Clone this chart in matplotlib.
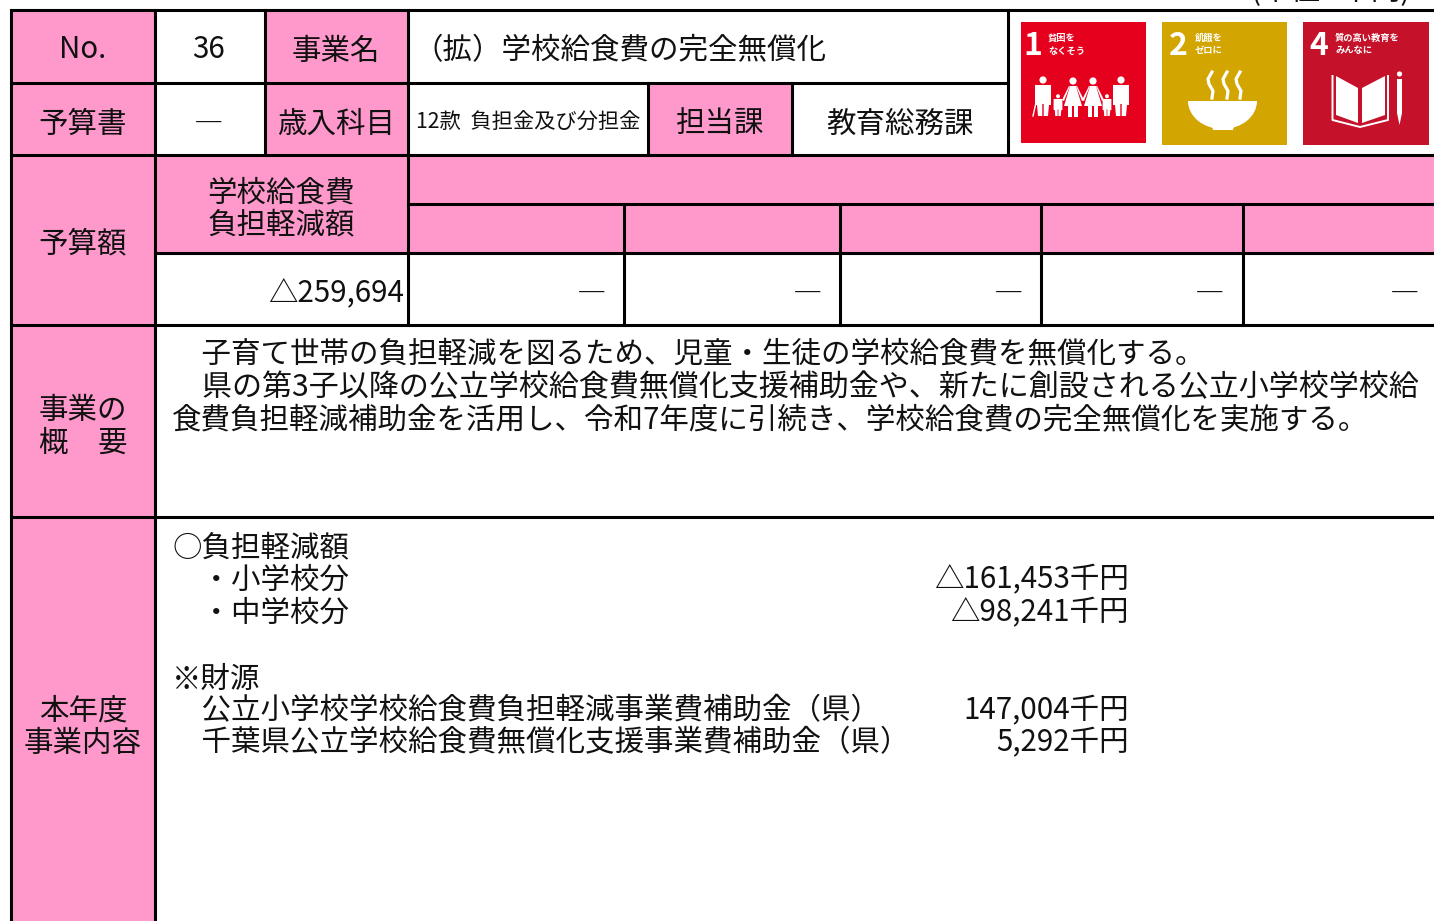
import matplotlib
matplotlib.use('Agg')
import matplotlib.pyplot as plt
from matplotlib.patches import Rectangle, Circle, Polygon, Ellipse
from matplotlib.lines import Line2D

plt.rcParams['font.family'] = ['Noto Sans CJK JP', 'DejaVu Sans']
PINK = '#FF99CC'
W, H = 1434, 921
FS = 29.5 * 0.72

# (x0, y0, x1, y1)
pink_cells = [(11, 11, 155, 325), (11, 325, 155, 921), (265, 11, 408, 155), (155, 155, 408, 254),
              (648, 84, 792, 155), (408, 155, 1434, 254)]
h_lines = [(10.5, 1434, 10.5), (10.5, 1008, 83), (10.5, 1434, 155), (408, 1434, 204), (155, 1434, 253.5),
           (10.5, 1434, 325), (10.5, 1434, 517)]
v_lines = [(10.5, 10.5, 921), (155, 10.5, 921), (264.5, 10.5, 155), (408, 10.5, 325), (648, 83, 155), (792, 83, 155),
           (1008, 10.5, 155), (624, 204, 325), (840, 204, 325), (1041, 204, 325), (1243, 204, 325)]

# (x, y, text, ha)
cell_labels = [(83, 47, 'No.', 'center'), (209, 47, '36', 'center'),
               (336, 48, '事業名', 'center'),
               (413, 48, '（拡）学校給食費の完全無償化', 'left'),
               (83, 121, '予算書', 'center'), (209, 122, '―', 'center'), (336, 121, '歳入科目', 'center'),
               (720, 121, '担当課', 'center'), (900, 121, '教育総務課', 'center'),
               (281, 190, '学校給食費', 'center'), (281, 222, '負担軽減額', 'center'),
               (83, 241, '予算額', 'center'),
               (404, 290, '△259,694', 'right'),
               (606, 292, '―', 'right'), (822, 292, '―', 'right'), (1023, 292, '―', 'right'),
               (1224, 292, '―', 'right'), (1419, 292, '―', 'right'),
               (83, 407, '事業の', 'center'), (83, 440, '概\u3000要', 'center'),
               (83, 708, '本年度', 'center'), (83, 740, '事業内容', 'center')]
# (x, y, text, size factor): the second line is justified in its cell
body_lines = [(172, 352, '\u3000子育て世帯の負担軽減を図るため、児童・生徒の学校給食費を無償化する。', 1.0),
              (172, 385, '\u3000県の第3子以降の公立学校給食費無償化支援補助金や、新たに創設される公立小学校学校給', 1.019),
              (172, 418, '食費負担軽減補助金を活用し、令和7年度に引続き、学校給食費の完全無償化を実施する。', 1.0),
              (172, 545, '○負担軽減額', 1.0),
              (172, 577, '\u3000・小学校分', 1.0),
              (172, 610, '\u3000・中学校分', 1.0),
              (172, 676, '※財源', 1.0),
              (172, 708, '\u3000公立小学校学校給食費負担軽減事業費補助金（県）', 1.0),
              (172, 740, '\u3000千葉県公立学校給食費無償化支援事業費補助金（県）', 1.0)]
amounts = [(577, '△161,453千円'), (610, '△98,241千円'), (708, '147,004千円'), (740, '5,292千円')]
account = '12款  負担金及び分担金'
unit_note = '(単位 : 千円)'

# SDG icons: x0, y0, x1, y1, colour, number, number x, caption x, two caption lines
sdgs = [(1021, 22, 1146, 143, '#E5001E', '1', 1033, 1048, '貧困を', 'なくそう'),
        (1162, 22, 1287, 145, '#D3A500', '2', 1178, 1195, '飢餓を', 'ゼロに'),
        (1303, 22, 1429, 145, '#C5112A', '4', 1319, 1335, '質の高い教育を', 'みんなに')]

fig = plt.figure(figsize=(W / 100, H / 100), dpi=100)
ax = fig.add_axes([0, 0, 1, 1])
ax.set_xlim(0, W)
ax.set_ylim(H, 0)
ax.axis('off')

for x0, y0, x1, y1 in pink_cells:
    ax.add_patch(Rectangle((x0, y0), x1 - x0, y1 - y0, fc=PINK, ec='none', zorder=1))
ax.add_patch(Rectangle((155, 84), 110, 71, fc='white', ec='none', zorder=1.5))
for x0, x1, y in h_lines:
    ax.add_line(Line2D([x0, x1], [y, y], color='black', lw=2.2, zorder=3, solid_capstyle='projecting'))
for x, y0, y1 in v_lines:
    ax.add_line(Line2D([x, x], [y0, y1], color='black', lw=2.2, zorder=3, solid_capstyle='projecting'))

def T(x, y, s, ha='left', fs=FS, dy=3, **kw):
    ax.text(x, y + dy, s, ha=ha, va='center', fontsize=fs, color=kw.pop('color', '#111111'), zorder=4, **kw)

for x, y, s, ha in cell_labels:
    T(x, y, s, ha)
for x, y, s, k in body_lines:
    T(x, y, s, fs=FS * k)
for y, s in amounts:
    T(1129, y, s, 'right')
T(416, 120, account, fs=21.3 * 0.72)
T(1410, -12, unit_note, 'right')

# SDG tiles
for x0, y0, x1, y1, col, num, nx, cx, c1, c2 in sdgs:
    ax.add_patch(Rectangle((x0, y0), x1 - x0, y1 - y0, fc=col, ec='none', zorder=2))
    T(nx, 44, num, 'center', fs=23, dy=2, color='white', fontweight='bold')
    T(cx, 37, c1, fs=6.7, dy=1, color='white', fontweight='bold')
    T(cx, 50, c2, fs=6.7, dy=1, color='white', fontweight='bold')

def wp(pts):
    ax.add_patch(Polygon(pts, closed=True, fc='white', ec='none', zorder=5))

def person(cx, top, scale, dress=False):
    ax.add_patch(Circle((cx, top + 4 * scale), 3.6 * scale, fc='white', ec='none', zorder=5))
    t = top + 9 * scale
    if dress:
        wp([(cx - 3 * scale, t), (cx + 3 * scale, t), (cx + 9 * scale, t + 20 * scale), (cx - 9 * scale, t + 20 * scale)])
        wp([(cx - 5 * scale, t + 20 * scale), (cx - 1 * scale, t + 20 * scale), (cx - 1 * scale, t + 31 * scale), (cx - 5 * scale, t + 31 * scale)])
        wp([(cx + 1 * scale, t + 20 * scale), (cx + 5 * scale, t + 20 * scale), (cx + 5 * scale, t + 31 * scale), (cx + 1 * scale, t + 31 * scale)])
        wp([(cx - 3 * scale, t), (cx - 4 * scale, t), (cx - 11 * scale, t + 14 * scale), (cx - 9 * scale, t + 15 * scale)])
        wp([(cx + 3 * scale, t), (cx + 4 * scale, t), (cx + 11 * scale, t + 14 * scale), (cx + 9 * scale, t + 15 * scale)])
    else:
        wp([(cx - 8 * scale, t), (cx + 8 * scale, t), (cx + 8 * scale, t + 20 * scale), (cx + 6 * scale, t + 20 * scale),
            (cx + 5 * scale, t + 31 * scale), (cx + 0.7 * scale, t + 31 * scale), (cx + 0.7 * scale, t + 19 * scale),
            (cx - 0.7 * scale, t + 19 * scale), (cx - 0.7 * scale, t + 31 * scale), (cx - 5 * scale, t + 31 * scale),
            (cx - 6 * scale, t + 20 * scale), (cx - 8 * scale, t + 20 * scale)])

person(1043, 76, 1.0)
ax.plot([1033, 1037], [116, 98], color='white', lw=1.0, zorder=5)
person(1058, 94, 0.55)
person(1073, 77, 1.0, dress=True)
person(1093, 77, 1.0, dress=True)
person(1107, 94, 0.55)
person(1121, 76, 1.0)

# bowl and steam
bowl = Ellipse((1222.5, 101), 69, 56, fc='white', ec='none', zorder=5)
ax.add_patch(bowl)
bowl.set_clip_path(Rectangle((1186, 101), 74, 40, transform=ax.transData))
wp([(1212, 126), (1234, 126), (1233, 130), (1213, 130)])
for sx in (1209, 1224, 1237):
    ax.plot([sx + 3, sx - 1, sx, sx + 4, sx + 3], [72, 79, 84, 91, 98], color='white', lw=2.3, zorder=5)

# book and pencil
wp([(1336, 76), (1358, 88), (1358, 123), (1336, 115)])
wp([(1362, 88), (1385, 76), (1385, 115), (1362, 123)])
ax.plot([1332.5, 1332.5, 1360, 1388, 1388], [76, 120, 127, 120, 76], color='white', lw=1.4, zorder=5)
ax.add_patch(Circle((1399.5, 74), 2.6, fc='white', ec='none', zorder=5))
wp([(1397, 79), (1402, 79), (1402, 113), (1399.5, 125), (1397, 113)])

fig.savefig('out.png', dpi=100, facecolor='white')
